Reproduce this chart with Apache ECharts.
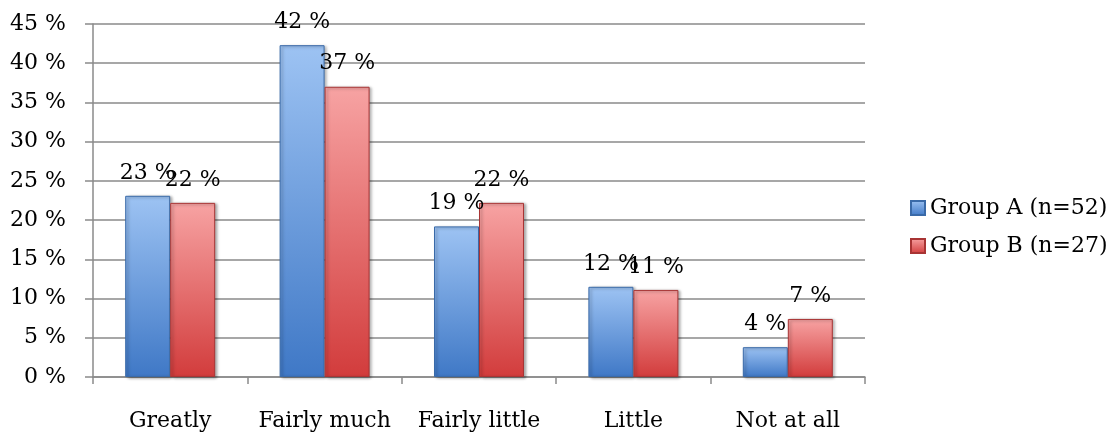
<!DOCTYPE html>
<html>
<head>
<meta charset="utf-8">
<script src="https://cdn.jsdelivr.net/npm/echarts@6/dist/echarts.min.js"></script>
<style>
  html, body { margin: 0; padding: 0; background: #fff; }
  #chart { width: 1107px; height: 435px; }
</style>
</head>
<body>
<div id="chart"></div>
<script>
// Answer categories
const categories = ['Greatly', 'Fairly much', 'Fairly little', 'Little', 'Not at all'];
// Shares of respondents in each group (percent)
const groupA = [23.1, 42.3, 19.2, 11.5, 3.8];
const groupB = [22.2, 37.0, 22.2, 11.1, 7.4];
const seriesNames = ['Group A (n=52)', 'Group B (n=27)'];
// Value axis ticks (percent)
const yTicks = [0, 5, 10, 15, 20, 25, 30, 35, 40, 45];

const FONT = '"DejaVu Serif", "Liberation Serif", serif';
const FS = 22;

function grad(top, bottom) {
  return new echarts.graphic.LinearGradient(0, 0, 0, 1, [
    { offset: 0, color: top },
    { offset: 1, color: bottom }
  ]);
}

const blueFill = grad('#9dc3f3', '#3f78c6');
const redFill = grad('#f7a3a3', '#d23c3c');

const labelOpt = {
  show: true,
  position: 'top',
  distance: 12,
  color: '#000',
  fontFamily: FONT,
  fontSize: FS,
  formatter: p => Math.round(p.value) + ' %'
};

const chart = echarts.init(document.getElementById('chart'), null, { renderer: 'canvas' });
chart.setOption({
  animation: false,
  textStyle: { fontFamily: FONT },
  grid: { left: 93, right: 242, top: 24, bottom: 58, containLabel: false },
  legend: {
    orient: 'vertical',
    left: 905,
    top: 192,
    itemWidth: 14,
    itemHeight: 14,
    itemGap: 16,
    icon: 'rect',
    textStyle: { fontFamily: FONT, fontSize: FS, lineHeight: 22, color: '#000' },
    data: seriesNames
  },
  xAxis: {
    type: 'category',
    data: categories,
    axisLine: { lineStyle: { color: '#8a8a8a', width: 1.5 } },
    axisTick: { show: true, length: 7, interval: 0, lineStyle: { color: '#8a8a8a', width: 1.5 } },
    axisLabel: { color: '#000', fontFamily: FONT, fontSize: FS, margin: 33, interval: 0 }
  },
  yAxis: {
    type: 'value',
    min: yTicks[0],
    max: yTicks[yTicks.length - 1],
    interval: yTicks[1] - yTicks[0],
    axisLine: { show: true, lineStyle: { color: '#8a8a8a', width: 1.5 } },
    axisTick: { show: true, length: 8, lineStyle: { color: '#8a8a8a', width: 1.5 } },
    splitLine: { lineStyle: { color: '#8a8a8a', width: 1.5 } },
    axisLabel: { color: '#000', fontFamily: FONT, fontSize: FS, margin: 27, formatter: v => v + ' %' }
  },
  series: [
    {
      name: seriesNames[0],
      type: 'bar',
      data: groupA,
      barWidth: 45,
      barGap: '0%',
      itemStyle: {
        color: blueFill,
        borderColor: '#3a6aa8',
        borderWidth: 1,
        shadowColor: 'rgba(0,0,0,0.35)',
        shadowBlur: 3,
        shadowOffsetX: 2,
        shadowOffsetY: 1
      },
      label: labelOpt
    },
    {
      name: seriesNames[1],
      type: 'bar',
      data: groupB,
      barWidth: 45,
      barGap: '0%',
      itemStyle: {
        color: redFill,
        borderColor: '#a83434',
        borderWidth: 1,
        shadowColor: 'rgba(0,0,0,0.35)',
        shadowBlur: 3,
        shadowOffsetX: 2,
        shadowOffsetY: 1
      },
      label: labelOpt
    }
  ]
});
</script>
</body>
</html>
